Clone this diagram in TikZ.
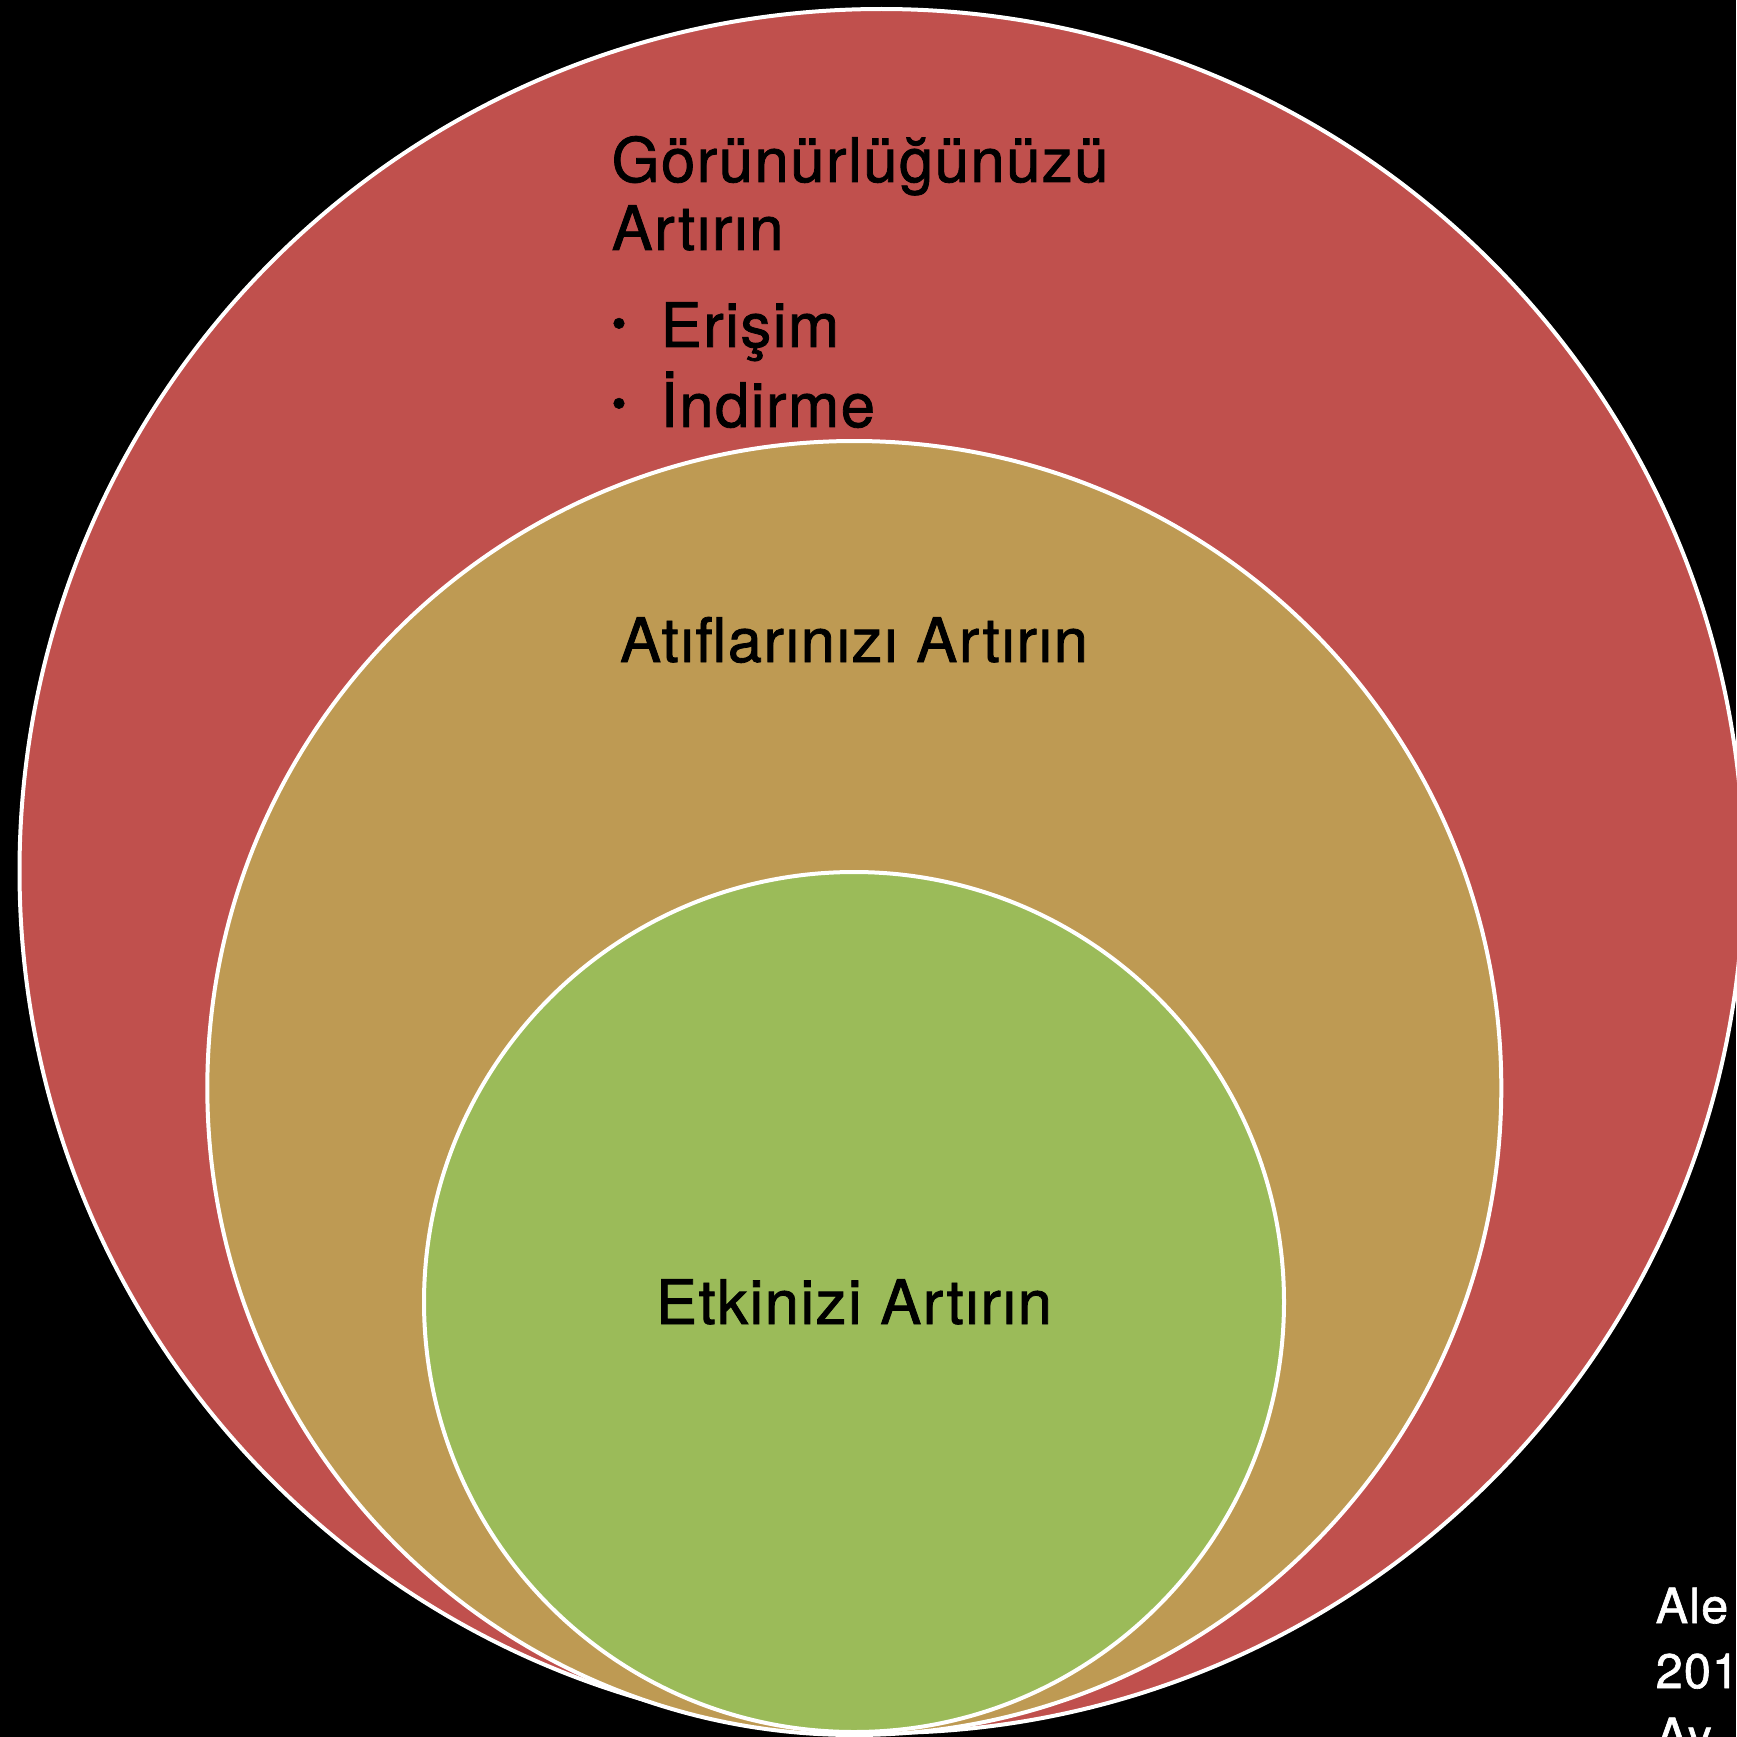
\documentclass[tikz,border=0pt]{standalone}
\usepackage{fontspec}
\setmainfont[LetterSpace=2.5, FakeBold=1.3]{TeX Gyre Heros}
\usetikzlibrary{positioning}
\definecolor{ringred}{RGB}{192,80,77}
\definecolor{ringgold}{RGB}{190,154,83}
\definecolor{ringgreen}{RGB}{155,187,89}

\begin{document}
\begin{tikzpicture}[x=0.1mm, y=-0.1mm,
    ring/.style={circle, draw=white, line width=0.4mm, inner sep=0pt},
    bigtext/.style={font=\fontsize{17.5}{21}\selectfont, text=black, inner sep=0pt},
    dotmark/.style={font=\fontsize{12}{14}\selectfont, text=black, inner sep=0pt},
    credit/.style={font=\fontsize{13.8}{16}\selectfont, text=white, inner sep=0pt, anchor=base west}]
    % black page
    \fill[black] (0,0) rectangle (1736,1737);
    \useasboundingbox (0,0) rectangle (1736,1737);

    % outer ring - red
    \node[ring, fill=ringred, minimum size=172.4mm] (visibility) at (881.5,871) {};
    % middle ring - gold
    \node[ring, fill=ringgold, minimum size=129.4mm] (citations) at (854.3,1088) {};
    % inner ring - green
    \node[ring, fill=ringgreen, minimum size=86mm] (impact) at (854,1302) {};

    % red ring text
    \node[bigtext, anchor=base west] (vistitle) at (611,182) {Görünürlüğünüzü};
    \node[bigtext, anchor=base west] (vistitletwo) at (611,250) {Artırın};
    \node[dotmark] (accessdot) at (619,328) {•};
    \node[bigtext, anchor=base west] (access) at (660,347) {Erişim};
    \node[dotmark] (downloaddot) at (619,408) {•};
    \node[bigtext, anchor=base west] (download) at (660,427) {İndirme};

    % gold and green ring text
    \node[bigtext, anchor=base] (citetitle) at (854,662) {Atıflarınızı Artırın};
    \node[bigtext, anchor=base] (impacttitle) at (854,1324) {Etkinizi Artırın};

    % cut-off source note
    \node[credit] (creditone) at (1655,1623) {Ale};
    \node[credit] (credittwo) at (1655,1688) {201};
    \node[credit] (creditthree) at (1655,1753) {Ay};
\end{tikzpicture}
\end{document}
